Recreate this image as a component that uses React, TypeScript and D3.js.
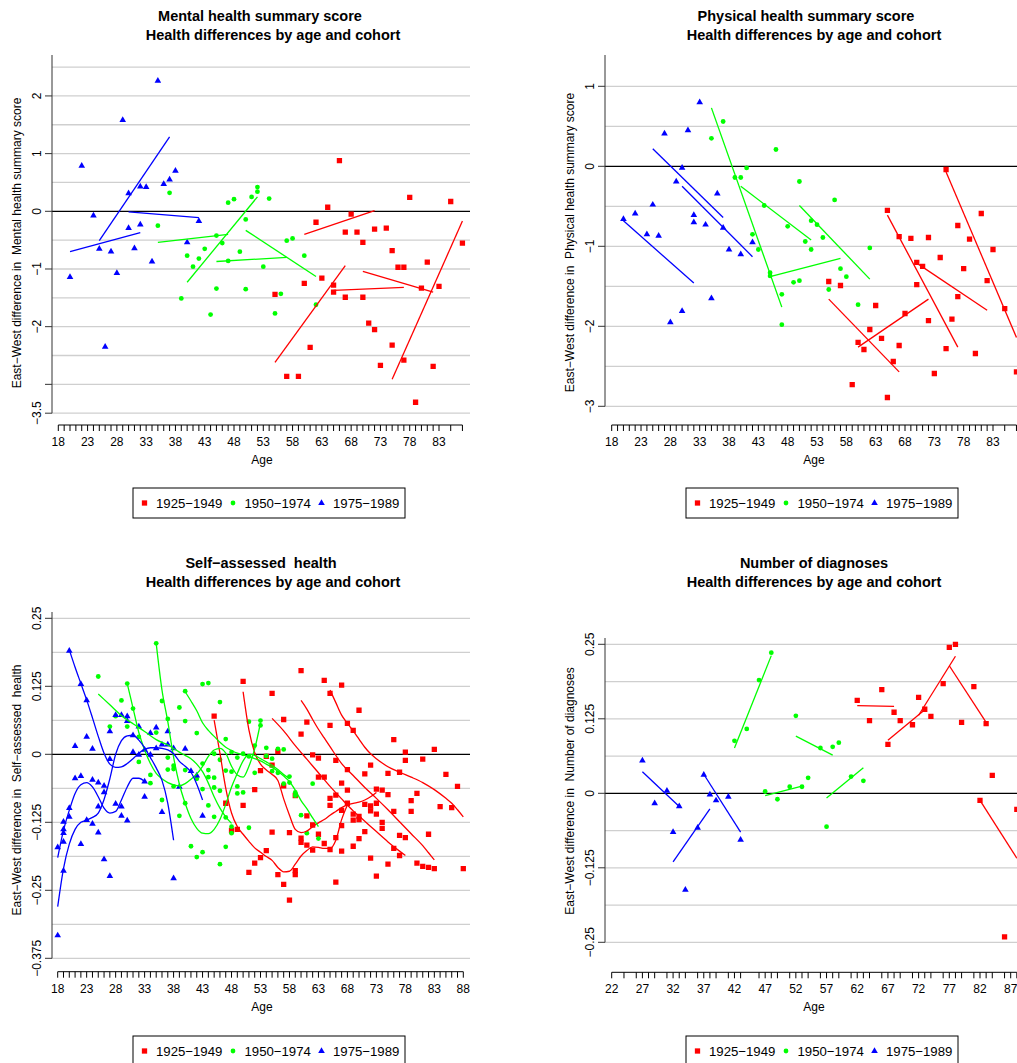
import React from 'react';
import * as d3 from 'd3';

type Pt = [number, number];
type Seg = [number, number, number, number];

const RED = '#ff0000';
const GREEN = '#00ff00';
const BLUE = '#0000ff';
const FONT = '"Liberation Sans", Arial, Helvetica, sans-serif';

const cohortNames = ['1925\u22121949', '1950\u22121974', '1975\u22121989'];

// ---------------- Mental health summary score ----------------
const mentalRed: Pt[] = [
  [66, 0.88], [64, 0.07], [62, -0.19], [68, -0.05], [67, -0.36], [69, -0.36], [70, -0.54], [72, -0.31],
  [74, -0.29], [78, 0.24], [85, 0.17], [87, -0.55], [75, -0.68], [76, -0.97], [77, -0.97], [81, -0.88],
  [80, -1.33], [83, -1.3], [63, -1.16], [60, -1.25], [65, -1.28], [65, -1.4], [55, -1.44], [67, -1.49],
  [70, -1.49], [71, -1.94], [72, -2.05], [61, -2.36], [75, -2.32], [77, -2.58], [73, -2.67], [82, -2.69],
  [57, -2.86], [59, -2.86], [79, -3.31],
];
const mentalGreen: Pt[] = [
  [35, -0.25], [37, 0.32], [39, -1.51], [40, -0.77], [41, -0.96], [42, -0.82], [43, -0.65], [44, -1.79],
  [45, -0.42], [45, -1.34], [46, -0.55], [47, 0.15], [47, -0.86], [48, 0.21], [49, -0.7], [50, -0.14],
  [50, -1.35], [51, 0.25], [52, 0.42], [52, 0.34], [53, -0.96], [54, 0.22], [55, -1.77], [56, -1.43],
  [57, -0.51], [58, -0.47], [60, -0.77], [62, -1.62],
];
const mentalBlue: Pt[] = [
  [20, -1.14], [22, 0.79], [24, -0.075], [25, -0.65], [26, -2.35], [27, -0.7], [28, -1.07], [29, 1.58],
  [30, 0.31], [30, -0.29], [31, -0.64], [32, 0.43], [32, -0.23], [33, 0.42], [34, -0.87], [35, 2.26],
  [36, 0.47], [37, 0.55], [38, 0.7], [40, -0.54], [42, -0.17],
];
const mentalRedLines: Seg[] = [[55, -2.62, 67, -0.94], [60, -0.4, 72, 0.01], [65, -1.37, 77, -1.32], [70, -1.04, 82, -1.4], [75, -2.91, 87, -0.17]];
const mentalGreenLines: Seg[] = [[40, -1.23, 52, 0.25], [35, -0.54, 47, -0.4], [45, -0.87, 57, -0.8], [50, -0.33, 62, -1.13]];
const mentalBlueLines: Seg[] = [[20, -0.7, 32, -0.37], [25, -0.51, 37, 1.29], [30, -0.01, 42, -0.11]];

// ---------------- Physical health summary score ----------------
const physRed: Pt[] = [
  [75, -0.04], [65, -0.55], [67, -0.88], [69, -0.9], [72, -0.89], [77, -0.74], [81, -0.59], [79, -0.91],
  [83, -1.04], [70, -1.2], [71, -1.25], [74, -1.14], [78, -1.28], [82, -1.43], [55, -1.44], [57, -1.49],
  [70, -1.48], [77, -1.63], [85, -1.78], [63, -1.74], [68, -1.84], [72, -1.93], [76, -1.91], [62, -2.04],
  [64, -2.15], [60, -2.2], [61, -2.29], [67, -2.24], [75, -2.28], [80, -2.34], [66, -2.44], [73, -2.59],
  [87, -2.57], [59, -2.73], [65, -2.89],
];
const physGreen: Pt[] = [
  [35, 0.35], [37, 0.56], [39, -0.14], [40, -0.14], [41, -0.02], [42, -0.85], [43, -1.04], [44, -0.49],
  [45, -1.33], [45, -1.37], [46, 0.21], [47, -1.6], [47, -1.98], [48, -0.75], [49, -1.45], [50, -1.43],
  [50, -0.19], [52, -0.68], [53, -0.73], [51, -0.94], [52, -1.04], [54, -0.89], [56, -0.42], [57, -1.28],
  [58, -1.38], [55, -1.54], [60, -1.73], [62, -1.02],
];
const physBlue: Pt[] = [
  [20, -0.66], [22, -0.59], [24, -0.85], [25, -0.48], [26, -0.87], [27, 0.41], [28, -1.95], [29, -0.19],
  [30, -1.81], [30, -0.02], [31, 0.45], [32, -0.61], [32, -0.7], [33, 0.8], [34, -0.73], [35, -1.65],
  [36, -0.34], [37, -0.77], [38, -1.04], [40, -1.1], [42, -0.95],
];
const physRedLines: Seg[] = [[75, -0.07, 87, -2.14], [65, -0.61, 77, -2.26], [70, -1.21, 82, -1.8], [55, -1.66, 67, -2.57], [60, -2.26, 72, -1.66]];
const physGreenLines: Seg[] = [[35, 0.73, 47, -1.76], [40, -0.25, 52, -0.92], [45, -1.38, 57, -1.15], [50, -0.49, 62, -1.41]];
const physBlueLines: Seg[] = [[20, -0.68, 32, -1.46], [25, 0.22, 37, -0.64], [30, -0.25, 42, -1.13]];

// ---------------- Self-assessed health ----------------
const selfRed: Pt[] = [
  [45, 0.07], [50, 0.134], [47, -0.09], [48, -0.14], [49, -0.138], [50, -0.094], [51, -0.217], [52, -0.065],
  [52, -0.2], [53, -0.03], [53, -0.19], [55, 0.112], [60, 0.154], [57, 0.064], [61, 0.059], [60, 0.037],
  [54, -0.004], [56, 0.005], [55, -0.02], [62, -0.001], [63, -0.007], [63, -0.042], [57, -0.058], [59, -0.076],
  [61, -0.113], [62, -0.13], [63, -0.147], [55, -0.143], [58, -0.144], [60, -0.154], [60, -0.162], [61, -0.167],
  [62, -0.176], [54, -0.177], [56, -0.221], [59, -0.214], [59, -0.221], [57, -0.239], [58, -0.268],
  [64, 0.136], [67, 0.127], [65, 0.112], [70, 0.081], [65, 0.053], [68, 0.057], [69, 0.044], [76, 0.027],
  [78, 0.004], [83, 0.009], [78, -0.011], [81, -0.009], [66, -0.011], [72, -0.02], [68, -0.028], [64, -0.042],
  [71, -0.036], [75, -0.035], [77, -0.033], [85, -0.037], [87, -0.059], [67, -0.053], [68, -0.066], [73, -0.064],
  [74, -0.066], [75, -0.074], [80, -0.072], [79, -0.085], [66, -0.075], [65, -0.081], [65, -0.094], [68, -0.09],
  [71, -0.092], [72, -0.095], [73, -0.09], [84, -0.096], [86, -0.098], [67, -0.103], [72, -0.104], [69, -0.11],
  [70, -0.114], [70, -0.12], [69, -0.121], [73, -0.11], [76, -0.105], [79, -0.105], [74, -0.125], [74, -0.136],
  [67, -0.131], [71, -0.142], [70, -0.155], [77, -0.149], [78, -0.153], [82, -0.147], [66, -0.153], [64, -0.164],
  [65, -0.175], [67, -0.178], [69, -0.169], [76, -0.173], [77, -0.186], [72, -0.191], [75, -0.202], [80, -0.2],
  [81, -0.206], [82, -0.208], [83, -0.21], [88, -0.21], [73, -0.224], [66, -0.235],
];
const selfGreen: Pt[] = [
  [25, 0.143], [27, 0.051], [28, 0.07], [29, 0.099], [30, 0.13], [30, 0.051], [31, 0.084], [32, 0.032],
  [32, -0.014], [34, -0.038], [34, -0.053], [35, 0.204], [35, 0.04], [36, 0.098], [36, -0.084], [37, 0.065],
  [37, -0.006], [37, -0.028], [38, -0.021], [38, -0.027], [38, -0.059], [39, 0.086], [39, -0.113], [40, 0.116],
  [40, 0.061], [40, -0.029], [40, -0.09], [41, -0.169], [42, -0.189], [42, -0.045], [42, 0.039], [43, 0.129],
  [43, -0.017], [43, -0.064], [43, -0.18], [44, 0.131], [44, -0.029], [44, -0.042], [44, -0.094], [45, -0.043],
  [45, -0.061], [45, -0.115], [45, 0.001], [46, 0.096], [46, -0.01], [46, -0.067], [46, -0.202], [47, 0.028],
  [47, -0.03], [47, -0.116], [47, -0.17], [48, 0.004], [48, -0.032], [48, -0.133], [48, -0.145], [49, -0.006],
  [49, -0.059], [49, -0.072], [50, 0.001], [50, -0.07], [51, 0.06], [51, -0.004], [51, -0.135], [52, 0.016],
  [52, -0.034], [53, 0.062], [53, 0.053], [54, 0.012], [54, -0.003], [55, -0.008], [55, -0.031], [56, 0.01],
  [56, -0.034], [57, 0.009], [57, -0.054], [58, -0.041], [58, -0.052], [59, -0.07], [59, -0.076], [60, -0.112],
  [61, -0.145], [62, -0.054], [63, -0.155],
];
const selfBlue: Pt[] = [
  [20, 0.19], [22, 0.129], [23, 0.099], [21, 0.015], [23, 0.032], [24, 0.01], [21, -0.044], [22, -0.04],
  [24, -0.047], [25, -0.052], [26, -0.058], [26, -0.07], [27, 0.042], [27, -0.009], [28, 0.072], [29, 0.072],
  [30, 0.07], [30, 0.061], [31, 0.035], [32, 0.051], [31, 0.004], [32, -0.001], [33, 0.008], [34, 0.039],
  [35, 0.049], [35, 0.011], [36, 0.018], [37, 0.018], [37, 0.042], [38, 0.011], [33, -0.05], [28, -0.091],
  [29, -0.096], [34, -0.001], [20, -0.099], [19, -0.124], [19, -0.138], [19, -0.145], [19, -0.161], [20, -0.115],
  [18, -0.171], [19, -0.214], [22, -0.165], [23, -0.121], [24, -0.128], [25, -0.144], [26, -0.193], [27, -0.224],
  [25, -0.096], [29, -0.113], [30, -0.122], [33, -0.078], [36, -0.106], [38, -0.228], [18, -0.333], [39, -0.06],
  [40, 0.01], [41, -0.031], [42, -0.039], [43, -0.113],
];
// smoothed curves
const selfRedCurves: Pt[][] = [
  [[45, 0.063], [46, 0.002], [47, -0.062], [48, -0.108], [49, -0.133], [50, -0.147], [51, -0.16], [52, -0.172],
   [53, -0.18], [54, -0.188], [55, -0.195], [56, -0.208], [57, -0.216], [58, -0.215], [59, -0.202], [60, -0.187],
   [61, -0.177], [62, -0.17], [63, -0.171], [64, -0.173], [65, -0.173], [66, -0.158], [67, -0.12], [68, -0.093]],
  [[50, 0.115], [51, 0.045], [52, 0.003], [53, -0.018], [54, -0.029], [55, -0.037], [56, -0.048], [57, -0.082],
   [58, -0.112], [59, -0.138], [60, -0.144], [61, -0.141], [62, -0.133], [63, -0.126], [64, -0.12], [65, -0.112],
   [66, -0.105], [67, -0.098], [68, -0.093], [69, -0.09], [70, -0.088], [71, -0.084], [72, -0.078], [73, -0.07]],
  [[55, 0.066], [57, 0.043], [59, 0.016], [61, -0.009], [63, -0.034], [65, -0.059], [67, -0.082], [69, -0.104],
   [71, -0.123], [73, -0.142], [75, -0.161], [77, -0.178], [78, -0.186]],
  [[60, 0.099], [61, 0.083], [62, 0.064], [63, 0.046], [64, 0.03], [65, 0.014], [67, -0.017], [69, -0.039],
   [71, -0.061], [73, -0.081], [75, -0.102], [77, -0.124], [79, -0.146], [81, -0.168], [82, -0.181], [83, -0.194]],
  [[65, 0.118], [66, 0.095], [67, 0.072], [68, 0.057], [69, 0.043], [70, 0.028], [71, 0.013], [72, 0.001],
   [73, -0.008], [74, -0.016], [75, -0.023], [77, -0.033], [79, -0.042], [81, -0.052], [83, -0.065], [85, -0.081],
   [86, -0.09], [87, -0.102], [88, -0.115]],
];
const selfGreenCurves: Pt[][] = [
  [[25, 0.111], [27, 0.091], [29, 0.071], [31, 0.056], [33, 0.042], [35, 0.027], [37, 0.017], [39, 0.004],
   [40, -0.002], [41, -0.008], [42, -0.018], [43, -0.032], [44, -0.053], [45, -0.078], [46, -0.099], [47, -0.115], [48, -0.127]],
  [[30, 0.13], [31, 0.085], [32, 0.04], [33, 0.008], [34, -0.017], [35, -0.035], [36, -0.045], [37, -0.052],
   [38, -0.056], [39, -0.058], [40, -0.054], [41, -0.046], [42, -0.036], [43, -0.022], [44, -0.004], [45, 0.008],
   [46, 0.011], [47, 0.002], [48, -0.022], [49, -0.038], [50, -0.042], [51, -0.022], [52, 0.01], [53, 0.058]],
  [[35, 0.204], [36, 0.118], [37, 0.06], [38, -0.005], [39, -0.055], [40, -0.09], [41, -0.118], [42, -0.136],
   [43, -0.145], [44, -0.146], [45, -0.138], [46, -0.12], [47, -0.092], [48, -0.06], [49, -0.035], [50, -0.012],
   [51, 0.0], [52, -0.002], [53, -0.008], [54, -0.014], [55, -0.02], [56, -0.028], [57, -0.037], [58, -0.045]],
  [[40, 0.115], [41, 0.098], [42, 0.08], [43, 0.058], [44, 0.044], [45, 0.033], [46, 0.022], [47, 0.013],
   [48, 0.007], [49, 0.002], [50, -0.001], [51, -0.004], [52, -0.008], [53, -0.012], [54, -0.018], [55, -0.024],
   [56, -0.031], [57, -0.04], [58, -0.05], [59, -0.066], [60, -0.085], [61, -0.1], [62, -0.117], [63, -0.133]],
];
const selfBlueCurves: Pt[][] = [
  [[18, -0.28], [19, -0.21], [20, -0.165], [21, -0.138], [22, -0.125], [23, -0.121], [24, -0.116], [25, -0.108],
   [26, -0.083], [27, -0.045], [28, 0.0], [29, 0.025], [30, 0.034], [31, 0.035], [32, 0.026], [33, 0.012],
   [34, -0.006], [35, -0.025], [36, -0.048], [37, -0.09], [38, -0.158]],
  [[20, 0.192], [21, 0.16], [22, 0.13], [23, 0.1], [24, 0.067], [25, 0.033], [26, 0.002], [27, -0.018],
   [28, -0.024], [29, -0.023], [30, -0.017], [31, -0.008], [32, 0.002], [33, 0.009], [34, 0.012], [35, 0.012],
   [36, 0.011], [37, 0.008], [38, 0.001], [39, -0.013], [40, -0.022], [41, -0.033], [42, -0.055], [43, -0.084]],
  [[18, -0.19], [19, -0.14], [20, -0.103], [21, -0.072], [22, -0.056], [23, -0.052], [24, -0.06], [25, -0.078],
   [26, -0.099], [27, -0.108], [28, -0.105], [29, -0.084], [30, -0.06], [31, -0.044], [32, -0.044], [33, -0.05]],
];

// ---------------- Number of diagnoses ----------------
const diagRed: Pt[] = [
  [62, 0.156], [64, 0.122], [66, 0.174], [67, 0.082], [68, 0.136], [69, 0.122], [71, 0.115], [72, 0.161],
  [73, 0.141], [74, 0.129], [76, 0.184], [77, 0.245], [78, 0.25], [79, 0.119], [81, 0.179], [82, -0.012],
  [83, 0.117], [84, 0.03], [86, -0.241], [88, -0.027],
];
const diagGreen: Pt[] = [
  [42, 0.088], [44, 0.108], [46, 0.19], [48, 0.236], [47, 0.003], [49, -0.01], [51, 0.011], [52, 0.13],
  [53, 0.011], [54, 0.026], [56, 0.076], [58, 0.078], [59, 0.085], [57, -0.056], [61, 0.028], [63, 0.021],
];
const diagBlue: Pt[] = [
  [27, 0.055], [29, -0.017], [31, 0.004], [32, -0.065], [33, -0.022], [34, -0.162], [36, -0.058], [37, 0.031],
  [38, -0.002], [39, -0.012], [41, -0.006], [43, -0.078],
];
const diagRedLines: Seg[] = [[62, 0.147, 68, 0.146], [67, 0.089, 73, 0.14], [72, 0.131, 78, 0.23], [77, 0.214, 83, 0.119], [82, -0.012, 88, -0.109]];
const diagGreenLines: Seg[] = [[42, 0.076, 48, 0.231], [47, -0.004, 53, 0.012], [52, 0.096, 58, 0.064], [57, -0.008, 63, 0.043]];
const diagBlueLines: Seg[] = [[27, 0.036, 33, -0.022], [32, -0.115, 38, -0.026], [37, 0.032, 43, -0.065]];

// ---------------- axis ticks ----------------
const ageTicksA = d3.range(18, 88).filter(a => a !== 84 && a !== 86);
const ageLabelsA = [18, 23, 28, 33, 38, 43, 48, 53, 58, 63, 68, 73, 78, 83];
const ageTicksSelf = d3.range(18, 89);
const ageLabelsSelf = [18, 23, 28, 33, 38, 43, 48, 53, 58, 63, 68, 73, 78, 83, 88];
const ageTicksDiag = [22, 24, 26, 27, 28, 29, 31, 32, 33, 34, 36, 37, 38, 39, 41, 42, 43, 46, 47, 48, 49, 51, 52, 53, 54,
  56, 57, 58, 59, 61, 62, 63, 64, 66, 67, 68, 69, 71, 72, 73, 74, 76, 77, 78, 79, 81, 82, 83, 84, 86, 87, 88];
const ageLabelsDiag = [22, 27, 32, 37, 42, 47, 52, 57, 62, 67, 72, 77, 82, 87];

const mentalYTicks = [2, 1, 0, -1, -2, -3, -3.5];
const mentalYLabels = ['2', '1', '0', '\u22121', '\u22122', '', '\u22123.5'];
const physYTicks = [1, 0, -1, -2, -3];
const physYLabels = ['1', '0', '\u22121', '\u22122', '\u22123'];
const selfYTicks = [0.25, 0.125, 0, -0.125, -0.25, -0.375];
const selfYLabels = ['0.25', '0.125', '0', '\u22120.125', '\u22120.25', '\u22120.375'];
const diagYTicks = [0.25, 0.125, 0, -0.125, -0.25];
const diagYLabels = ['0.25', '0.125', '0', '\u22120.125', '\u22120.25'];

interface Cohort { color: string; shape: 'square' | 'circle' | 'triangle'; pts: Pt[]; segs?: Seg[]; curves?: Pt[][] }

interface PanelSpec {
  id: string;
  title: string; titleX: number; sub: string; subX: number; titleY: number;
  ylab: string; ylabY: number;
  xDomain: [number, number]; xRange: [number, number];
  yDomain: [number, number]; yRange: [number, number];
  left: number; right: number; top: number;
  grid: number[];
  yTicks: number[]; yLabels: string[];
  xTicks: number[]; xLabels: number[]; xAxisY: number; ageX: number;
  legendX: number; legendY: number;
  cohorts: Cohort[];
}

const SHAPES = {
  square: d3.symbol().type(d3.symbolSquare).size(28)() as string,
  circle: d3.symbol().type(d3.symbolCircle).size(18)() as string,
  triangle: d3.symbol().type(d3.symbolTriangle).size(19)() as string,
};

const SUB = 'Health differences by age and cohort';

const panels: PanelSpec[] = [
  {
    id: 'mental', title: 'Mental health summary score', titleX: 260, sub: SUB, subX: 273, titleY: 16,
    ylab: 'East\u2212West difference in  Mental health summary score', ylabY: 243,
    xDomain: [18, 83], xRange: [58.3, 439.0], yDomain: [0, -3.5], yRange: [211.3, 413.2],
    left: 52, right: 470, top: 55, grid: d3.range(-3.5, 2.51, 0.5),
    yTicks: mentalYTicks, yLabels: mentalYLabels,
    xTicks: ageTicksA, xLabels: ageLabelsA, xAxisY: 425, ageX: 262,
    legendX: 133, legendY: 488,
    cohorts: [
      { color: RED, shape: 'square', pts: mentalRed, segs: mentalRedLines },
      { color: GREEN, shape: 'circle', pts: mentalGreen, segs: mentalGreenLines },
      { color: BLUE, shape: 'triangle', pts: mentalBlue, segs: mentalBlueLines },
    ],
  },
  {
    id: 'phys', title: 'Physical health summary score', titleX: 806, sub: SUB, subX: 814, titleY: 16,
    ylab: 'East\u2212West difference in  Physical health summary score', ylabY: 242.5,
    xDomain: [18, 83], xRange: [611.7, 993.0], yDomain: [0, -3], yRange: [166.3, 406.3],
    left: 605, right: 1017, top: 55, grid: d3.range(-3, 1.01, 0.5),
    yTicks: physYTicks, yLabels: physYLabels,
    xTicks: ageTicksA, xLabels: ageLabelsA, xAxisY: 425, ageX: 814,
    legendX: 686, legendY: 488,
    cohorts: [
      { color: RED, shape: 'square', pts: physRed, segs: physRedLines },
      { color: GREEN, shape: 'circle', pts: physGreen, segs: physGreenLines },
      { color: BLUE, shape: 'triangle', pts: physBlue, segs: physBlueLines },
    ],
  },
  {
    id: 'self', title: 'Self\u2212assessed  health', titleX: 261, sub: SUB, subX: 273, titleY: 563,
    ylab: 'East\u2212West difference in  Self\u2212assessed  health', ylabY: 790,
    xDomain: [18, 88], xRange: [57.7, 463.3], yDomain: [0, -0.375], yRange: [754.3, 958.3],
    left: 52, right: 470, top: 612, grid: d3.range(-0.375, 0.26, 0.0625),
    yTicks: selfYTicks, yLabels: selfYLabels,
    xTicks: ageTicksSelf, xLabels: ageLabelsSelf, xAxisY: 971.7, ageX: 262,
    legendX: 133, legendY: 1036,
    cohorts: [
      { color: RED, shape: 'square', pts: selfRed, curves: selfRedCurves },
      { color: GREEN, shape: 'circle', pts: selfGreen, curves: selfGreenCurves },
      { color: BLUE, shape: 'triangle', pts: selfBlue, curves: selfBlueCurves },
    ],
  },
  {
    id: 'diag', title: 'Number of diagnoses', titleX: 814, sub: SUB, subX: 814, titleY: 563,
    ylab: 'East\u2212West difference in  Number of diagnoses', ylabY: 791,
    xDomain: [22, 82], xRange: [611.7, 980.0], yDomain: [0, -0.25], yRange: [793.3, 942.3],
    left: 605, right: 1017, top: 638, grid: d3.range(-0.25, 0.26, 0.0625),
    yTicks: diagYTicks, yLabels: diagYLabels,
    xTicks: ageTicksDiag, xLabels: ageLabelsDiag, xAxisY: 972.3, ageX: 814,
    legendX: 686, legendY: 1036,
    cohorts: [
      { color: RED, shape: 'square', pts: diagRed, segs: diagRedLines },
      { color: GREEN, shape: 'circle', pts: diagGreen, segs: diagGreenLines },
      { color: BLUE, shape: 'triangle', pts: diagBlue, segs: diagBlueLines },
    ],
  },
];

const Panel: React.FC<{ p: PanelSpec }> = ({ p }) => {
  const x = d3.scaleLinear().domain(p.xDomain).range(p.xRange);
  const y = d3.scaleLinear().domain(p.yDomain).range(p.yRange);
  const straight = d3.line<Pt>().x(d => x(d[0])).y(d => y(d[1]));
  const smooth = d3.line<Pt>().x(d => x(d[0])).y(d => y(d[1])).curve(d3.curveMonotoneX);
  const yBottom = y(p.yTicks[p.yTicks.length - 1]);
  const axisX = p.left;
  const clipId = `clip-${p.id}`;
  const xFirst = x(p.xTicks[0]);
  const xLast = x(p.xTicks[p.xTicks.length - 1]);

  return (
    <g>
      <defs>
        <clipPath id={clipId}>
          <rect x={p.left} y={p.top} width={p.right - p.left} height={yBottom - p.top + 6} />
        </clipPath>
      </defs>

      {/* titles */}
      <text x={p.titleX} y={p.titleY} textAnchor="middle" dominantBaseline="central"
        fontSize={14.5} fontWeight="bold" style={{ whiteSpace: 'pre' }}>{p.title}</text>
      <text x={p.subX} y={p.titleY + 19} textAnchor="middle" dominantBaseline="central"
        fontSize={14.5} fontWeight="bold">{p.sub}</text>

      {/* grid */}
      {p.grid.map((v, i) => (
        <line key={i} x1={p.left} x2={p.right} y1={y(v)} y2={y(v)}
          stroke={Math.abs(v) < 1e-9 ? '#000' : '#cfcfcf'} strokeWidth={Math.abs(v) < 1e-9 ? 1.2 : 1.3} />
      ))}

      {/* y axis */}
      <line x1={axisX} x2={axisX} y1={p.top} y2={yBottom} stroke="#333" strokeWidth={1} />
      {p.yTicks.map((t, i) => (
        <g key={i}>
          <line x1={axisX - 7} x2={axisX} y1={y(t)} y2={y(t)} stroke="#333" />
          {p.yLabels[i] && (
            <text transform={`translate(${axisX - 15},${y(t)}) rotate(-90)`} textAnchor="middle"
              dominantBaseline="central" fontSize={12}>{p.yLabels[i]}</text>
          )}
        </g>
      ))}
      <text transform={`translate(${axisX - 35},${p.ylabY}) rotate(-90)`} textAnchor="middle"
        dominantBaseline="central" fontSize={12} style={{ whiteSpace: 'pre' }}>{p.ylab}</text>

      {/* x axis */}
      <line x1={xFirst} x2={xLast} y1={p.xAxisY} y2={p.xAxisY} stroke="#000" />
      {p.xTicks.map(t => (
        <line key={t} x1={x(t)} x2={x(t)} y1={p.xAxisY} y2={p.xAxisY + 6} stroke="#000" />
      ))}
      {p.xLabels.map(t => (
        <text key={t} x={x(t)} y={p.xAxisY + 17} textAnchor="middle" dominantBaseline="central" fontSize={12}>{t}</text>
      ))}
      <text x={p.ageX} y={p.xAxisY + 35} textAnchor="middle" dominantBaseline="central" fontSize={12}>Age</text>

      {/* data */}
      <g clipPath={`url(#${clipId})`}>
        {p.cohorts.map((c, ci) => (
          <g key={ci}>
            {c.pts.map((d, i) => (
              <path key={i} d={SHAPES[c.shape]} transform={`translate(${x(d[0])},${y(d[1])})`} fill={c.color} />
            ))}
          </g>
        ))}
        {p.cohorts.map((c, ci) => (
          <g key={`l${ci}`} fill="none" stroke={c.color} strokeWidth={1.3}>
            {(c.segs || []).map((s, i) => (
              <path key={i} d={straight([[s[0], s[1]], [s[2], s[3]]]) as string} />
            ))}
            {(c.curves || []).map((cv, i) => (
              <path key={`c${i}`} d={smooth(cv) as string} />
            ))}
          </g>
        ))}
      </g>

      {/* legend */}
      <g transform={`translate(${p.legendX},${p.legendY})`}>
        <rect x={0} y={0} width={272} height={30} fill="#fff" stroke="#000" strokeWidth={1} />
        {p.cohorts.map((c, i) => (
          <g key={i} transform={`translate(${11.5 + i * 88.5},15)`}>
            <path d={SHAPES[c.shape]} fill={c.color} />
            <text x={11.5} y={0} dominantBaseline="central" fontSize={13.2}>{cohortNames[i]}</text>
          </g>
        ))}
      </g>
    </g>
  );
};

export default function App() {
  return (
    <svg width={1017} height={1063} style={{ position: 'absolute', left: 0, top: 0, background: '#fff' }}
      fontFamily={FONT}>
      <rect x={0} y={0} width={1017} height={1063} fill="#fff" />
      {panels.map(p => <Panel key={p.id} p={p} />)}
    </svg>
  );
}
